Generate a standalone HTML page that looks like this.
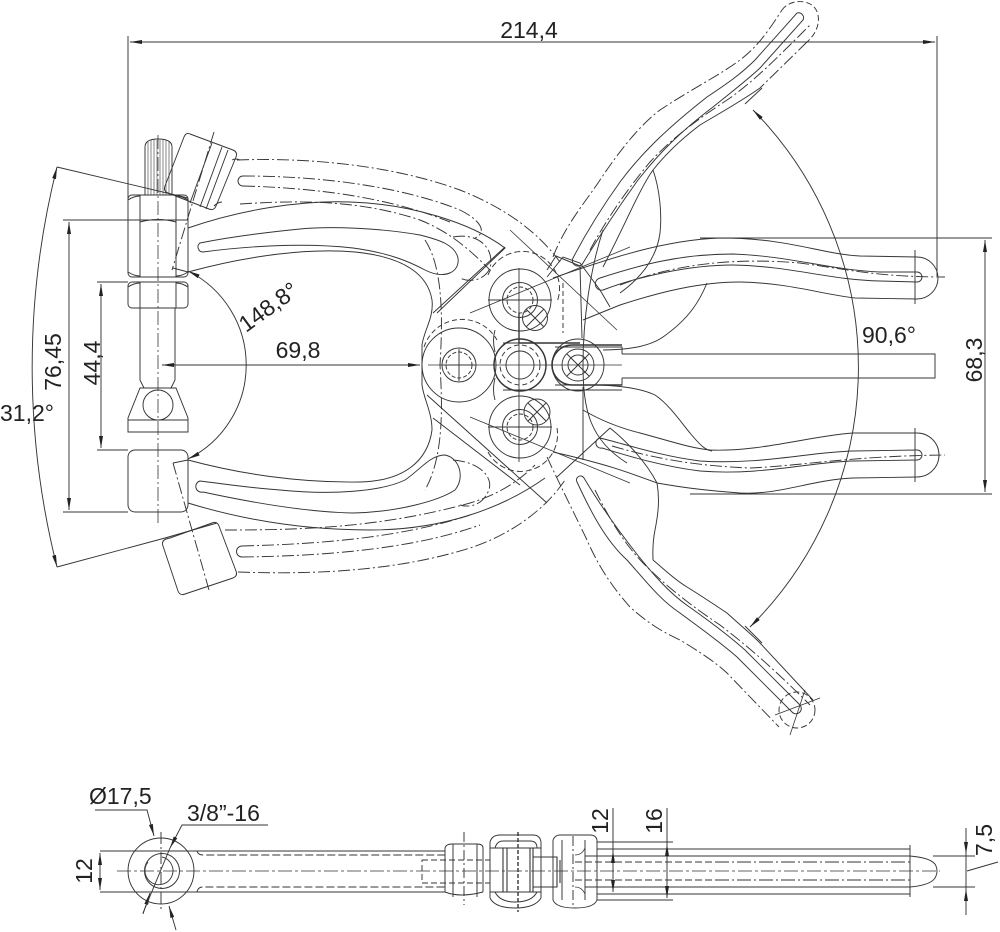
<!DOCTYPE html>
<html><head><meta charset="utf-8">
<style>
html,body{margin:0;padding:0;background:#fff;}
svg{display:block;}
text{font-family:"Liberation Sans",Arial,sans-serif;font-size:23px;fill:#222;stroke:none;}
</style></head><body>
<svg width="1000" height="932" viewBox="0 0 1000 932" xmlns="http://www.w3.org/2000/svg">
<defs>
<marker id="ar" viewBox="0 0 12 4" refX="12" refY="2" markerWidth="12" markerHeight="4" markerUnits="userSpaceOnUse" orient="auto-start-reverse"><path d="M0,0L12,2L0,4z" fill="#222"/></marker>
</defs>
<rect width="1000" height="932" fill="#fff"/>
<g fill="none" stroke="#353535" stroke-width="0.95">

<!-- ===== DIMENSIONS TOP VIEW ===== -->
<path d="M130,42H935" marker-start="url(#ar)" marker-end="url(#ar)"/>
<path d="M128,36V198M937,36V276"/>
<path d="M63,220H140M63,512H128"/>
<path d="M69,222V510" marker-start="url(#ar)" marker-end="url(#ar)"/>
<path d="M97,282H128M97,450H128"/>
<path d="M101,284V448" marker-start="url(#ar)" marker-end="url(#ar)"/>
<path d="M57,167L188,198M57,567L165,538L217,523"/>
<path d="M57,167A818,818 0 0 0 57,567" marker-start="url(#ar)" marker-end="url(#ar)"/>
<path d="M188,271A105,105 0 0 1 188,459" marker-start="url(#ar)" marker-end="url(#ar)"/>
<path d="M162,365H420" marker-start="url(#ar)" marker-end="url(#ar)"/>
<path d="M753,110A366,366 0 0 1 750,627" marker-start="url(#ar)" marker-end="url(#ar)"/>
<path d="M745,104L762,88M745,626L762,643"/>
<path d="M700,238H992M690,494H992"/>
<path d="M985,240V492" marker-start="url(#ar)" marker-end="url(#ar)"/>

<!-- ===== STUD / SPINDLE ===== -->
<path d="M145,195V147Q145,139 158,139Q172,139 172,147V195"/>
<path d="M148,142V195M151,140V195M154,140V195M157,140V195M160,140V195M163,140V195M166,140V195M169,141V195" stroke-width="0.6"/>
<rect x="128" y="195" width="60" height="82" rx="4"/>
<path d="M128,220H188M140,195V277M176,195V277"/>
<path d="M128,200Q134,196 140,196M176,196Q182,196 188,200M128,272Q134,276 140,276M176,276Q182,276 188,272M140,222Q158,217 176,222"/>
<rect x="128" y="282" width="60" height="26" rx="4"/>
<path d="M140,282V308M176,282V308M128,287Q134,283 140,283M176,283Q182,283 188,287"/>
<path d="M140,308V380M175,308V380M140,380L144,388M175,380L171,388"/>
<path d="M140,388H176L188,418V432H128V418Z"/>
<path d="M128,420H188"/>
<circle cx="158" cy="405" r="15"/>
<path d="M158,135V525" stroke-dasharray="14 3 2 3" stroke-width="0.8"/>
<rect x="128" y="450" width="60" height="62" rx="7"/>

<!-- phantom pads -->
<path d="M190,134L233,150Q238,152 236,157L216,206Q214,211 209,209L168,193Q163,191 165,186L184,137Q186,132 190,134Z"/>
<path d="M212,143L190,203M222,147L200,207M228,150L206,209"/>
<path d="M214,132L172,270" stroke-dasharray="12 3 2 3"/>
<path d="M170,538L212,523Q217,521 219,526L236,571Q238,576 233,578L185,594Q180,596 178,591L163,546Q161,541 166,539Z"/>
<path d="M173,463L209,590" stroke-dasharray="12 3 2 3"/>
<path d="M173,463L188,460M173,268L188,272"/>

<!-- ===== UPPER JAW ARM (solid) ===== -->
<path d="M188,228C240,210 300,200 350,202C410,204 470,222 505,248L437,313"/>
<path d="M188,272C250,255 310,248 355,252C405,257 428,275 432,300C434,318 424,330 422,345V385C424,400 432,412 432,430"/>
<path d="M188,460C240,474 300,483 360,482C405,481 428,460 432,430"/>
<path d="M203,252C240,247 300,242 353,248C390,253 410,262 425,270C445,280 460,272 458,258C455,245 440,240 420,235C380,228 330,226 300,229C260,233 225,238 200,243A5,5 0 0 0 203,252Z"/>
<g stroke-dasharray="12 3 2 3">
<path d="M237,160C320,157 400,168 460,190C510,210 540,235 560,262"/>
<path d="M243,176C320,176 400,186 460,210C480,220 488,232 475,238M243,186C320,188 390,198 450,222"/>
<path d="M240,204C300,200 360,200 420,220C450,232 470,250 490,270"/>
<path d="M453,237C480,232 495,250 490,268C485,280 470,283 460,278"/>
<path d="M425,240C445,270 442,330 440,365C442,400 445,455 425,490"/>
</g>
<path d="M243,176A5,5 0 0 0 243,186"/>
<path d="M232,160Q236,158 240,160M214,206Q218,202 222,202"/>

<!-- ===== LOWER JAW ARM ===== -->
<path d="M188,503C250,522 310,530 370,530C440,530 500,510 545,478"/>
<path d="M433,418L520,485M427,395L547,503"/>
<path d="M203,492C240,500 300,512 353,513C400,512 440,500 455,490C465,478 460,458 445,455C430,455 420,470 405,480C380,492 330,495 280,490C250,488 225,484 200,481A5,5 0 0 0 203,492Z"/>
<g stroke-dasharray="12 3 2 3">
<path d="M238,572C320,575 400,570 470,548C510,535 545,510 565,480"/>
<path d="M242,546C320,544 400,538 470,515M242,557C320,556 410,550 480,525"/>
<path d="M225,530C300,530 380,528 470,503C500,494 520,480 535,465"/>
<path d="M453,460C480,462 495,478 488,492C482,505 470,508 460,505"/>
</g>
<path d="M242,546A5,5 0 0 0 242,557"/>
<path d="M433,313L505,247"/>

<!-- ===== CENTER ROLLERS ===== -->
<circle cx="459" cy="365" r="37"/>
<circle cx="459" cy="365" r="17"/>
<circle cx="459" cy="365" r="13" stroke-dasharray="4 2"/>
<path d="M424,347A40,40 0 0 1 497,340" stroke-dasharray="5 3"/>
<circle cx="520" cy="365" r="26" stroke-width="1.5"/>
<circle cx="520" cy="365" r="20" stroke-dasharray="5 3"/>
<circle cx="520" cy="365" r="14"/>
<circle cx="578" cy="365" r="26"/>
<circle cx="578" cy="365" r="16"/>
<circle cx="578" cy="365" r="10"/>
<path d="M622,345H572A20,20 0 0 0 572,385H622" stroke-width="1.6"/>
<path d="M567,354L589,376M589,354L567,376"/>
<path d="M555,347H622V354M555,385H622V378"/>
<path d="M622,354H935V378H622"/>
<circle cx="520" cy="300" r="31"/>
<circle cx="520" cy="300" r="17.5"/>
<circle cx="520" cy="300" r="13" stroke-dasharray="4 2"/>
<path d="M488,275A37,37 0 0 1 557,302" stroke-dasharray="6 3"/>
<circle cx="535" cy="318" r="12.5"/>
<path d="M526,309L544,327M544,309L526,327"/>
<circle cx="520" cy="427" r="31"/>
<circle cx="520" cy="427" r="17.5"/>
<circle cx="520" cy="427" r="13" stroke-dasharray="4 2"/>
<path d="M488,452A37,37 0 0 0 557,428" stroke-dasharray="6 3"/>
<circle cx="537" cy="412" r="13"/>
<path d="M528,403L546,421M546,403L528,421"/>
<path d="M519,268V462" stroke-width="0.9"/>
<path d="M519,313V343H580" stroke-width="1.4"/>
<path d="M503,343H560M503,390H622"/>
<path d="M428,365H622" stroke-width="0.7"/>
<path d="M488,300H552M488,427H552M443,365H475M459,349V381"/>
<path d="M495,330Q492,340 495,352M495,378Q492,390 495,400"/>
<path d="M510,230L617,330M470,417L630,483M470,313L630,247" stroke-width="0.8"/>

<!-- handle bases / body -->
<path d="M547,270L556,256L580,266L582,338"/>
<path d="M563,283V333" stroke-dasharray="5 3"/>
<path d="M583,387V460M610,428L557,477"/>
<path d="M603,230C590,270 583,320 583,365C583,410 590,440 627,463"/>
<path d="M547,277L563,257L580,263L600,290L610,307"/>

<!-- ===== UPPER ANGLED HANDLE ===== -->
<path d="M553,257C565,225 587,200 600,180C620,150 640,125 660,110C690,90 720,75 740,60C760,45 772,25 782,10" stroke-dasharray="12 3 2 3"/>
<path d="M782,10C790,-2 815,-2 818,15C820,25 815,35 807,42" stroke-dasharray="6 3"/>
<path d="M807,42L760,88" stroke-dasharray="12 3 2 3"/>
<path d="M760,88C740,102 720,113 700,125C680,140 665,155 653,170C640,188 625,225 603,267"/>
<path d="M573,258C585,235 600,210 620,182C640,155 665,130 707,97C725,85 740,75 755,60L797,13A5,5 0 0 1 803,20L760,68C745,82 730,93 713,107C680,132 660,152 638,180C620,205 600,235 583,263A5,5 0 0 1 573,258Z"/>
<path d="M590,250C605,222 625,192 650,162C675,135 700,118 730,98C755,80 775,60 810,25" stroke-dasharray="12 3 2 3"/>
<path d="M653,170C660,190 662,215 660,233C657,255 645,275 620,293"/>
<path d="M707,283C700,300 690,318 663,337C650,346 630,350 603,350"/>

<!-- ===== UPPER HORIZONTAL HANDLE ===== -->
<path d="M553,278C600,262 660,240 720,238C790,238 820,254 860,256L917,257A21,21 0 0 1 917,299L855,298C820,294 790,283 740,282C700,282 660,292 620,305L583,320"/>
<path d="M603,290C640,276 690,265 733,265C790,266 830,280 880,281L917,282A5,5 0 0 0 917,272L880,272C830,270 790,256 733,254C680,254 640,265 600,278A6,6 0 0 0 603,290Z"/>
<path d="M620,285C680,262 740,258 800,263C850,270 880,277 945,277" stroke-dasharray="12 3 2 3"/>
<path d="M915,250V304"/>

<!-- ===== LOWER HORIZONTAL HANDLE ===== -->
<path d="M583,410C600,420 620,428 640,433C670,441 690,448 710,450C760,452 810,436 853,433L917,433A22,22 0 0 1 917,477L853,478C810,480 780,495 740,493C700,490 680,487 657,483C630,473 610,465 553,452"/>
<path d="M600,438C625,444 660,456 700,461C760,465 810,452 853,451L917,450A5,5 0 0 1 917,460L853,461C810,462 760,476 700,471C660,466 625,455 602,448A5,5 0 0 1 600,438Z"/>
<path d="M612,446C660,460 700,466 750,468C800,466 850,456 945,455" stroke-dasharray="12 3 2 3"/>
<path d="M915,428V482"/>
<path d="M600,385C620,386 640,388 655,395C670,405 683,425 690,433C700,445 705,450 712,451"/>
<path d="M610,428C625,440 645,460 657,483C660,500 658,515 655,530C652,545 653,555 653,560"/>

<!-- ===== LOWER ANGLED HANDLE ===== -->
<path d="M547,457C560,485 575,515 587,540C600,570 615,590 630,607C650,625 665,633 680,640C700,652 715,662 727,673L779,727" stroke-dasharray="12 3 2 3"/>
<circle cx="797" cy="710" r="18" stroke-dasharray="6 3"/>
<path d="M653,560C665,570 675,580 687,587C700,595 712,603 727,613C740,625 750,633 760,643L813,700"/>
<path d="M577,482C590,510 605,540 627,560C645,580 660,600 680,613C700,628 720,642 737,657L792,712A5,5 0 0 0 800,705L745,650C728,635 708,620 688,606C668,592 652,573 636,553C618,530 600,505 584,478A4,4 0 0 0 577,482Z"/>
<path d="M595,490C610,520 625,545 645,565C665,585 690,605 720,625C750,648 775,670 810,705" stroke-dasharray="12 3 2 3"/>
<path d="M775,715L820,698M790,735L805,690" stroke-width="0.8"/>

<!-- ===== SIDE VIEW ===== -->
<circle cx="161" cy="871" r="33"/>
<circle cx="162" cy="871" r="17.5"/>
<path d="M148,862A14,14 0 1 0 162,857" stroke-width="0.9"/>
<path d="M161,832V910" stroke-dasharray="12 3 2 3"/>
<path d="M117,871H940" stroke-dasharray="14 3 3 3" stroke-width="0.8"/>
<path d="M100,851H445M100,892H445"/>
<path d="M197,851Q198,855 203,855H445M197,892Q198,887 203,887H445" stroke-dasharray="8 3"/>
<rect x="422" y="860" width="68" height="23" stroke-dasharray="6 3"/>
<path d="M100,853V890" marker-start="url(#ar)" marker-end="url(#ar)"/>
<path d="M95,810H147L154,836" marker-end="url(#ar)"/>
<path d="M150,893L143,914" marker-start="url(#ar)"/>
<path d="M268,825H182L170,848" marker-end="url(#ar)"/>
<path d="M170,848L143,913"/>
<path d="M169,906L176,930" marker-start="url(#ar)"/>

<path d="M445,848Q446,844 452,844H477Q483,844 483,848M445,892Q460,898 483,892"/>
<path d="M445,848V892M483,848V892M453,844V897M477,844V897"/>
<path d="M464,832V905" stroke-dasharray="10 3 2 3"/>
<path d="M490,842Q492,835 500,835H533Q540,835 541,842M495,848Q497,841 503,841H530Q537,841 537,848"/>
<path d="M490,898Q495,908 515,908Q535,908 541,898M495,892Q500,902 515,902Q532,902 537,892"/>
<path d="M490,848H541M490,892H541M490,842V898M541,842V898"/>
<path d="M503,848V892M507,848V892M530,848V892M533,848V892" stroke-width="1.1"/>
<path d="M518,832V912" stroke-dasharray="4 2" stroke-width="1.4"/>
<path d="M533,857H557V887H533M560,860V883" stroke-width="1.1"/>
<path d="M553,840Q555,835 560,835H590Q596,835 597,840M553,900Q556,908 575,908Q594,908 597,900"/>
<path d="M553,840V900M597,840V900M562,840V900M585,840V900"/>
<path d="M573,836V906" stroke-dasharray="10 3 2 3"/>
<path d="M575,855Q582,855 585,848M575,887Q582,887 585,894" stroke-width="0.8"/>
<path d="M597,849H910M597,894H910M585,856H910M585,887H910"/>
<path d="M575,862H715M575,880H715" stroke-dasharray="7 3"/>
<path d="M715,862H910M715,880H910" stroke-dasharray="14 3 2 3"/>
<path d="M910,845V897M910,856Q933,858 936,866Q938,871 936,876Q933,885 910,887"/>
<path d="M597,842H673M597,900H673"/>
<path d="M613,808V851M667,808V844"/>
<path d="M613,851V892" marker-start="url(#ar)" marker-end="url(#ar)"/>
<path d="M667,844V898" marker-start="url(#ar)" marker-end="url(#ar)"/>
<path d="M933,856H975M933,887H975"/>
<path d="M966,828V854" marker-end="url(#ar)"/>
<path d="M966,915V889" marker-end="url(#ar)"/>
<path d="M966,854V889"/>
<path d="M967,871L998,862"/>
</g>

<text x="529" y="38" text-anchor="middle">214,4</text>
<text x="298" y="358" text-anchor="middle">69,8</text>
<text transform="translate(246,333) rotate(-36)">148,8°</text>
<text x="862" y="343">90,6°</text>
<text x="0" y="421">31,2°</text>
<text transform="translate(61,362) rotate(-90)" text-anchor="middle">76,45</text>
<text transform="translate(100,363) rotate(-90)" text-anchor="middle">44,4</text>
<text transform="translate(982,360) rotate(-90)" text-anchor="middle">68,3</text>
<text x="89" y="804">Ø17,5</text>
<text x="187" y="821">3/8”-16</text>
<text transform="translate(92,871) rotate(-90)" text-anchor="middle">12</text>
<text transform="translate(608,821) rotate(-90)" text-anchor="middle">12</text>
<text transform="translate(662,821) rotate(-90)" text-anchor="middle">16</text>
<text transform="translate(992,840) rotate(-90)" text-anchor="middle">7,5</text>
</svg>
</body></html>
